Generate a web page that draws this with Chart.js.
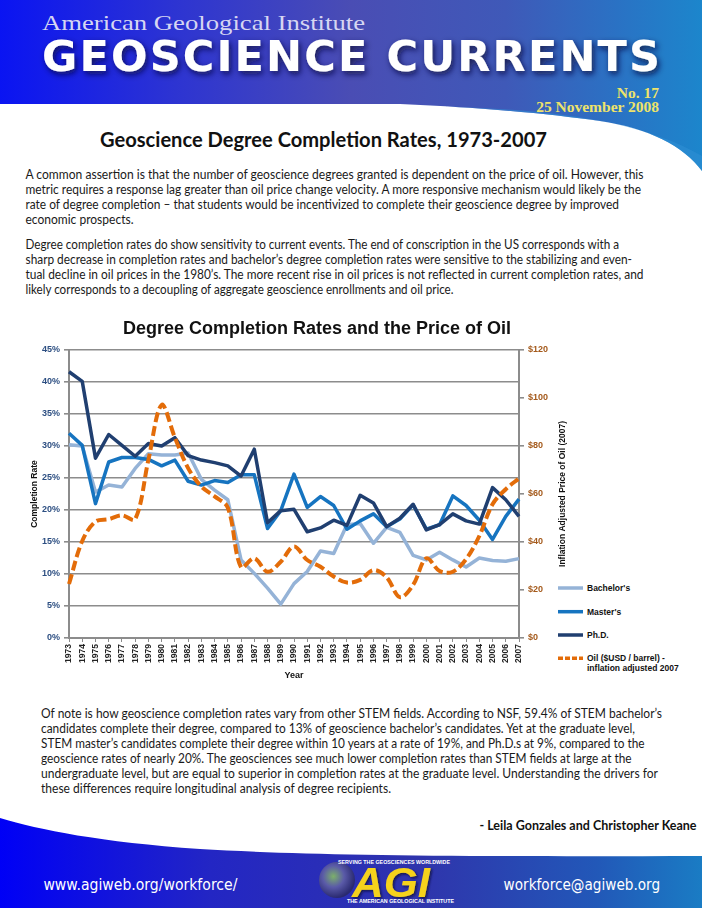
<!DOCTYPE html>
<html>
<head>
<meta charset="utf-8">
<script src="https://cdn.jsdelivr.net/npm/chart.js@4.4.0/dist/chart.umd.min.js"></script>
<style>
  html, body { margin: 0; padding: 0; background: #fff; }
  body { width: 702px; height: 908px; position: relative; overflow: hidden; }
  #page { position: absolute; left: 0; top: 0; z-index: 0; }
  #chartBox { position: absolute; left: 20px; top: 315px; width: 594px; height: 380px; z-index: 1; }
  .p { font-family: Lato, "Open Sans", sans-serif; font-size: 12.5px; fill: #1a1a1a; }
  .lg { font-family: "Liberation Sans", Arial, sans-serif; font-size: 8.5px; font-weight: bold; fill: #111; }
</style>
</head>
<body>
<svg id="page" width="702" height="908" xmlns="http://www.w3.org/2000/svg">
  <defs>
    <linearGradient id="hg" x1="0" y1="0" x2="1" y2="0">
      <stop offset="0" stop-color="#0a14f2"/>
      <stop offset="0.25" stop-color="#2d34d2"/>
      <stop offset="0.5" stop-color="#4a4db4"/>
      <stop offset="0.72" stop-color="#3f59b8"/>
      <stop offset="0.88" stop-color="#2a72c4"/>
      <stop offset="1" stop-color="#1c86cc"/>
    </linearGradient>
    <linearGradient id="fg" x1="0" y1="0" x2="1" y2="0">
      <stop offset="0" stop-color="#0000f6"/>
      <stop offset="0.3" stop-color="#2326c4"/>
      <stop offset="0.6" stop-color="#2f34ac"/>
      <stop offset="0.85" stop-color="#2258b8"/>
      <stop offset="1" stop-color="#1a7cc4"/>
    </linearGradient>
    <radialGradient id="globe" cx="0.4" cy="0.4" r="0.6">
      <stop offset="0" stop-color="#7cb06a"/>
      <stop offset="0.5" stop-color="#5a5aa8"/>
      <stop offset="1" stop-color="#2a2a70"/>
    </radialGradient>
    <filter id="sh" x="-10%" y="-30%" width="120%" height="160%">
      <feDropShadow dx="2" dy="3" stdDeviation="3" flood-color="#0a0a40" flood-opacity="0.85"/>
    </filter>
    <filter id="sh2"><feDropShadow dx="1.5" dy="1.5" stdDeviation="1" flood-color="#101030" flood-opacity="0.8"/></filter>
  </defs>

  <!-- header -->
  <path d="M0 0 H702 V171 C684 146 648 128 600 121 C550 114 490 108 400 104 L0 104 Z" fill="url(#hg)"/>
  <path d="M500 109 C580 114 650 126 702 156 V171 C684 146 648 128 600 121 C550 114 490 108 400 104 Z" fill="#2f8fd6" opacity="0.55"/>
  <text x="42" y="30" font-family="Liberation Serif" font-size="21" fill="#d6d6f2" textLength="323" lengthAdjust="spacingAndGlyphs">American Geological Institute</text>
  <text x="42" y="71" font-family="DejaVu Sans" font-weight="bold" font-size="43" fill="#ffffff" textLength="618" lengthAdjust="spacing" filter="url(#sh)">GEOSCIENCE CURRENTS</text>
  <text x="659" y="98" text-anchor="end" font-family="Liberation Serif" font-weight="bold" font-size="15.5" fill="#eee36a">No. 17</text>
  <text x="659" y="112" text-anchor="end" font-family="Liberation Serif" font-weight="bold" font-size="15.5" fill="#eee36a">25 November 2008</text>

  <!-- title + intro text -->
  <text x="323.5" y="147" text-anchor="middle" font-family="Lato" font-weight="bold" font-size="20" fill="#111" textLength="447" lengthAdjust="spacingAndGlyphs">Geoscience Degree Completion Rates, 1973-2007</text>

  <text class="p" x="25.5" y="179" textLength="618" lengthAdjust="spacingAndGlyphs">A common assertion is that the number of geoscience degrees granted is dependent on the price of oil.  However, this</text>
  <text class="p" x="25.5" y="194" textLength="615.5" lengthAdjust="spacingAndGlyphs">metric requires a response lag greater than oil price change velocity.   A more responsive mechanism would likely be the</text>
  <text class="p" x="25.5" y="209.3" textLength="593.5" lengthAdjust="spacingAndGlyphs">rate of degree completion – that students would be incentivized to complete their geoscience degree by improved</text>
  <text class="p" x="25.5" y="224.3" textLength="108" lengthAdjust="spacingAndGlyphs">economic prospects.</text>

  <text class="p" x="25.5" y="249" textLength="593.5" lengthAdjust="spacingAndGlyphs">Degree completion rates do show sensitivity to current events. The end of conscription in the US corresponds with a</text>
  <text class="p" x="25.5" y="264" textLength="606.5" lengthAdjust="spacingAndGlyphs">sharp decrease in completion rates and bachelor’s degree completion rates were sensitive to the stabilizing and even-</text>
  <text class="p" x="25.5" y="279" textLength="618" lengthAdjust="spacingAndGlyphs">tual decline in oil prices in the 1980’s.  The more recent rise in oil prices is not reflected in current completion rates, and</text>
  <text class="p" x="25.5" y="294" textLength="428" lengthAdjust="spacingAndGlyphs">likely corresponds to a decoupling of aggregate geoscience enrollments and oil price.</text>

  <!-- legend -->
  <line x1="558" y1="588" x2="583" y2="588" stroke="#95b3d7" stroke-width="3.5"/>
  <text class="lg" x="587" y="591">Bachelor's</text>
  <line x1="558" y1="611.7" x2="583" y2="611.7" stroke="#1674c0" stroke-width="3.5"/>
  <text class="lg" x="587" y="614.7">Master's</text>
  <line x1="558" y1="635" x2="583" y2="635" stroke="#203f70" stroke-width="3.5"/>
  <text class="lg" x="587" y="638">Ph.D.</text>
  <line x1="558" y1="658.3" x2="583" y2="658.3" stroke="#e36c09" stroke-width="3.5" stroke-dasharray="5 2"/>
  <text class="lg" x="587" y="661.3">Oil ($USD / barrel) -</text>
  <text class="lg" x="587" y="670.5">inflation adjusted 2007</text>

  <!-- closing text -->
  <text class="p" x="41" y="718" textLength="621" lengthAdjust="spacingAndGlyphs">Of note is how geoscience completion rates vary from other STEM fields.   According to NSF, 59.4% of STEM bachelor’s</text>
  <text class="p" x="41" y="733" textLength="594" lengthAdjust="spacingAndGlyphs">candidates complete their degree, compared to 13% of geoscience bachelor’s candidates.  Yet at the graduate level,</text>
  <text class="p" x="41" y="748.3" textLength="603.5" lengthAdjust="spacingAndGlyphs">STEM master’s candidates complete their degree within 10 years at a rate of 19%, and Ph.D.s at 9%, compared to the</text>
  <text class="p" x="41" y="763.3" textLength="590.5" lengthAdjust="spacingAndGlyphs">geoscience rates of nearly 20%.  The geosciences see much lower completion rates than STEM fields at large at the</text>
  <text class="p" x="41" y="777.8" textLength="617" lengthAdjust="spacingAndGlyphs">undergraduate level, but are equal to superior in completion rates at the graduate level.  Understanding the drivers for</text>
  <text class="p" x="41" y="792.8" textLength="350" lengthAdjust="spacingAndGlyphs">these differences require longitudinal analysis of degree recipients.</text>
  <text x="696.5" y="830" text-anchor="end" font-family="Lato" font-weight="bold" font-size="13" fill="#111" textLength="217" lengthAdjust="spacingAndGlyphs">- Leila Gonzales and Christopher Keane</text>

  <!-- footer -->
  <path d="M0 818 C40 830 100 842 200 849 C300 855 450 857 702 856 V908 H0 Z" fill="url(#fg)"/>
  <text x="43.4" y="890" font-family="DejaVu Sans" font-size="15" fill="#ffffff" textLength="194" lengthAdjust="spacingAndGlyphs">www.agiweb.org/workforce/</text>
  <text x="503.6" y="890" font-family="DejaVu Sans" font-size="15" fill="#ffffff" textLength="156.5" lengthAdjust="spacingAndGlyphs">workforce@agiweb.org</text>
  <circle cx="337" cy="880" r="18" fill="url(#globe)"/>
  <text x="352" y="897" font-family="Liberation Sans" font-weight="bold" font-style="italic" font-size="42" fill="#f5d21f" textLength="78" lengthAdjust="spacingAndGlyphs" filter="url(#sh2)">AGI</text>
  <text x="338" y="864" font-family="Liberation Sans" font-weight="bold" font-size="5.5" fill="#ffffff" textLength="112" lengthAdjust="spacingAndGlyphs">SERVING THE GEOSCIENCES WORLDWIDE</text>
  <text x="347" y="902.5" font-family="Liberation Sans" font-weight="bold" font-size="5" fill="#ffffff" textLength="107" lengthAdjust="spacingAndGlyphs">THE AMERICAN GEOLOGICAL INSTITUTE</text>
</svg>

<div id="chartBox"><canvas id="rates-chart" width="594" height="380"></canvas></div>

<script>
// data
var years = ['1973', '1974', '1975', '1976', '1977', '1978', '1979', '1980', '1981', '1982',
             '1983', '1984', '1985', '1986', '1987', '1988', '1989', '1990', '1991', '1992',
             '1993', '1994', '1995', '1996', '1997', '1998', '1999', '2000', '2001', '2002',
             '2003', '2004', '2005', '2006', '2007'];

var bachelors = [30.2, 30.0, 22.8, 23.9, 23.6, 26.5, 28.8, 28.6, 28.6, 28.9,
                 24.8, 23.1, 21.6, 12.2, 10.1, 7.8, 5.3, 8.5, 10.4, 13.6,
                 13.2, 17.7, 17.9, 14.8, 17.3, 16.5, 12.9, 12.2, 13.4, 12.2,
                 11.1, 12.5, 12.1, 12.0, 12.4];

var masters = [32.0, 30.1, 21.0, 27.5, 28.2, 28.2, 27.9, 26.9, 27.8, 24.5,
               23.9, 24.6, 24.3, 25.5, 25.5, 17.1, 19.9, 25.6, 20.4, 22.1,
               20.7, 17.0, 18.3, 19.4, 17.4, 18.6, 20.8, 17.0, 17.7, 22.2,
               20.7, 18.4, 15.4, 19.0, 21.7];

var phd = [41.6, 40.1, 28.1, 31.8, 30.1, 28.4, 30.4, 30.0, 31.3, 28.5,
           27.8, 27.4, 26.9, 25.3, 29.5, 18.0, 19.9, 20.1, 16.6, 17.2,
           18.4, 17.6, 22.3, 21.1, 17.4, 18.7, 20.9, 16.9, 17.7, 19.4,
           18.3, 17.8, 23.5, 21.6, 19.0];

var oil = [22.5, 40.4, 48.5, 49.5, 51.1, 49.5, 74.2, 97.1, 83.5, 70.8,
           63.1, 59.0, 54.3, 29.5, 33.2, 27.6, 31.8, 38.1, 32.5, 29.7,
           25.6, 23.1, 24.2, 28.3, 25.3, 17.0, 22.1, 33.2, 27.9, 27.6,
           32.8, 42.5, 55.7, 62.0, 66.5];

var rateTicks = { min: 0, max: 45, step: 5 };
var priceTicks = { min: 0, max: 120, step: 20 };

var FONT = 'Liberation Sans';
var GRID = '#8c8c8c';

// right axis title reads bottom-to-top in the original
var rightTitle = {
    id: 'rightTitle',
    afterDraw: function(chart) {
        var ctx = chart.ctx;
        var area = chart.chartArea;
        ctx.save();
        ctx.translate(543, (area.top + area.bottom) / 2);
        ctx.rotate(-Math.PI / 2);
        ctx.font = 'bold 8.5px ' + FONT;
        ctx.fillStyle = '#111';
        ctx.textAlign = 'center';
        ctx.textBaseline = 'middle';
        ctx.fillText('Inflation Adjusted Price of Oil (2007)', 0, 0);
        ctx.restore();
    }
};

var rates = document.getElementById('rates-chart').getContext('2d');
var ratesChart = new Chart(rates, {
    type: 'line',
    data: {
        labels: years,
        datasets: [{
            label: "Bachelor's",
            data: bachelors,
            borderColor: '#95b3d7',
            borderWidth: 3.5,
            yAxisID: 'y',
            order: 3
        }, {
            label: "Master's",
            data: masters,
            borderColor: '#1674c0',
            borderWidth: 3.5,
            yAxisID: 'y',
            order: 2
        }, {
            label: 'Ph.D.',
            data: phd,
            borderColor: '#203f70',
            borderWidth: 3.5,
            yAxisID: 'y',
            order: 1
        }, {
            label: 'Oil ($USD / barrel) - inflation adjusted 2007',
            data: oil,
            borderColor: '#e36c09',
            borderWidth: 4,
            borderDash: [10, 4],
            tension: 0.35,
            yAxisID: 'y2',
            order: 0
        }]
    },
    options: {
        responsive: false,
        animation: false,
        layout: { padding: 0 },
        elements: {
            point: { radius: 0 },
            line: { borderCapStyle: 'butt', borderJoinStyle: 'round', fill: false }
        },
        plugins: {
            legend: { display: false },
            tooltip: { enabled: false },
            title: {
                display: true,
                text: 'Degree Completion Rates and the Price of Oil',
                color: '#111',
                font: { family: FONT, size: 18, weight: 'bold' },
                padding: { top: 3, bottom: 10.4 }
            }
        },
        scales: {
            x: {
                offset: false,
                afterFit: function(s) { s.height = 57; },
                grid: { drawOnChartArea: false, drawTicks: true, tickLength: 4, color: GRID, lineWidth: 1 },
                border: { color: GRID, width: 2 },
                ticks: {
                    autoSkip: false, maxRotation: 90, minRotation: 90, padding: 2,
                    color: '#222',
                    font: { family: FONT, size: 8.5, weight: 'bold' }
                },
                title: {
                    display: true, text: 'Year', color: '#111',
                    font: { family: FONT, size: 9, weight: 'bold' },
                    padding: { top: 6, bottom: 14 }
                }
            },
            y: {
                position: 'left',
                min: rateTicks.min,
                max: rateTicks.max,
                afterFit: function(s) { s.width = 49; },
                grid: { color: GRID, lineWidth: 1.6, tickLength: 5 },
                border: { color: GRID, width: 2 },
                ticks: {
                    stepSize: rateTicks.step, padding: 4,
                    color: '#2d4f82',
                    font: { family: FONT, size: 9, weight: 'bold' },
                    callback: function(v) { return v + '%'; }
                },
                title: {
                    display: true, text: 'Completion Rate', color: '#111',
                    font: { family: FONT, size: 8.5, weight: 'bold' },
                    padding: { top: 10, bottom: 0 }
                }
            },
            y2: {
                position: 'right',
                min: priceTicks.min,
                max: priceTicks.max,
                afterFit: function(s) { s.width = 95; },
                grid: { drawOnChartArea: false, color: GRID, lineWidth: 1.6, tickLength: 5 },
                border: { color: GRID, width: 2 },
                ticks: {
                    stepSize: priceTicks.step, padding: 4,
                    color: '#a45a1c',
                    font: { family: FONT, size: 9, weight: 'bold' },
                    callback: function(v) { return '$' + v; }
                }
            }
        }
    },
    plugins: [rightTitle]
});
</script>
</body>
</html>
